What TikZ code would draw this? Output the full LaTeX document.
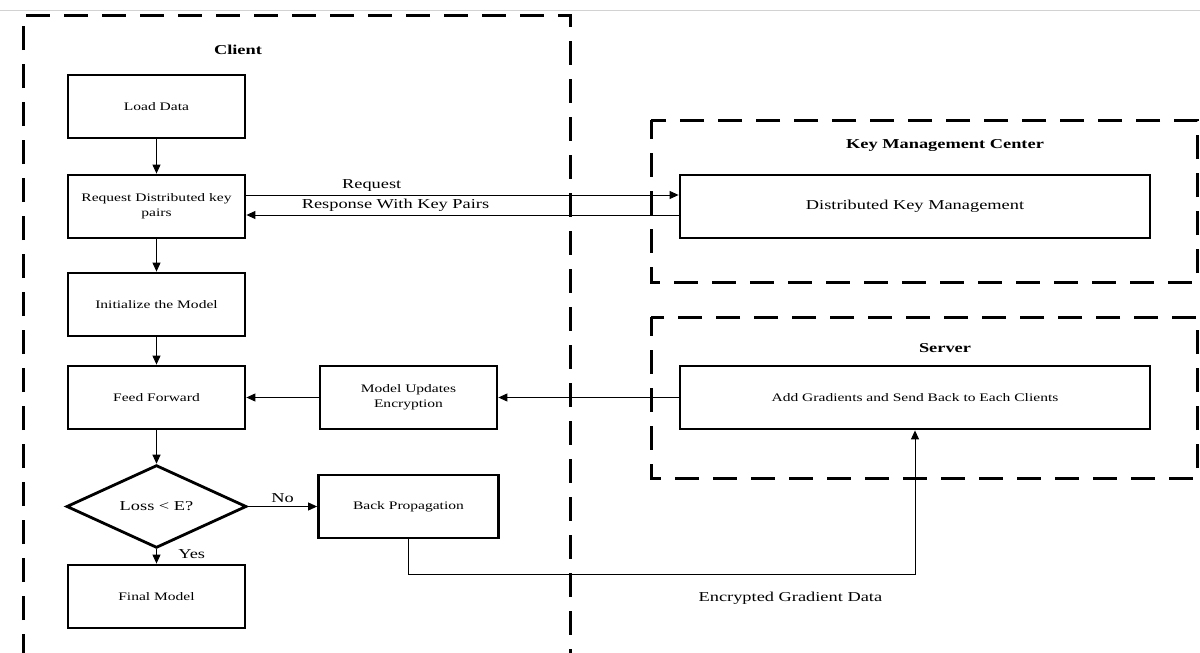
\documentclass[tikz,border=0pt]{standalone}
\usepackage{fontspec}
\setmainfont{Liberation Serif}[FakeStretch=1.35]
\usepackage{tikz}
\usetikzlibrary{arrows.meta,shapes,positioning}

\begin{document}
\begin{tikzpicture}[x=1pt, y=-1pt, ->, >={Triangle[length=9pt,width=8pt]}, line width=1pt, node distance=98pt,
	block/.style={draw, line width=2.8pt, minimum width=177pt, minimum height=63pt, align=center, font=\fontsize{11.5}{15}\selectfont},
	wideblock/.style={block, minimum width=470pt},
	decision/.style={draw, diamond, line width=2.8pt, minimum width=180pt, minimum height=76pt, inner sep=0pt, font=\fontsize{13.6}{16}\selectfont},
	zone/.style={draw, -, dash pattern=on 24pt off 14pt, dash phase=5pt, line width=3pt},
	zonetitle/.style={font=\fontsize{13.6}{16}\selectfont\bfseries},
	lbl/.style={font=\fontsize{13.6}{16}\selectfont}]
		\useasboundingbox (0,0) rectangle (1200,653);
		\draw[-, gray!35] (0,10) -- (1200,10);
		
		% Define zones
		\draw[zone] (23,653) -- (23,15) -- (570,15) -- (570,653);
		\node[zonetitle] (clientlbl) at (238,50) {Client};
		\draw[zone] (651,120) rectangle (1197,282);
		\node[zonetitle] (kmclbl) at (945,145) {Key Management Center};
		\draw[zone] (651,317) rectangle (1197,478);
		\node[zonetitle] (serverlbl) at (945,348) {Server};
		
		% Define blocks
		\node[block] (load) at (156.5,106.5) {Load Data};
		\node[block, below of=load, node distance=100pt] (request) {Request Distributed key\\pairs};
		\node[block, below of=request] (init) {Initialize the Model};
		\node[block, below of=init, node distance=93pt] (feed) {Feed Forward};
		\node[decision, below of=feed, node distance=109pt] (loss) {Loss < E?};
		\node[block, below of=loss, node distance=90pt] (final) {Final Model};
		\node[block, right of=feed, node distance=252pt] (encrypt) {Model Updates\\Encryption};
		\node[block, right of=loss, node distance=252pt, minimum width=180pt] (backprop) {Back Propagation};
		\node[wideblock, lbl] (dkm) at (915,206.5) {Distributed Key Management};
		\node[wideblock, below of=dkm, node distance=191pt] (gradsum) {Add Gradients and Send Back to Each Clients};
		
		\coordinate (reqout) at ([yshift=11.5pt]request.east);
		\coordinate (reqin) at (reqout -| dkm.west);
		\coordinate (respout) at ([yshift=-8.5pt]dkm.west);
		\coordinate (respin) at (respout -| request.east);
		
		% Define arrows
		\path
		(load) edge (request)
		(request) edge (init)
		(init) edge (feed)
		(feed) edge (loss)
		(loss) edge node[lbl, right=18pt, pos=0.35] {Yes} (final)
		(loss) edge node[lbl, above] {No} (backprop)
		(gradsum) edge (encrypt)
		(encrypt) edge (feed)
		(reqout) edge node[lbl, above, pos=0.29] {Request} (reqin)
		(respout) edge node[lbl, above, pos=0.655] {Response With Key Pairs} (respin);
		\draw (backprop.south) -- ++(0,35) -| node[lbl, pos=0.377, below=14pt] {Encrypted Gradient Data} (gradsum.south);
	\end{tikzpicture}
\end{document}
